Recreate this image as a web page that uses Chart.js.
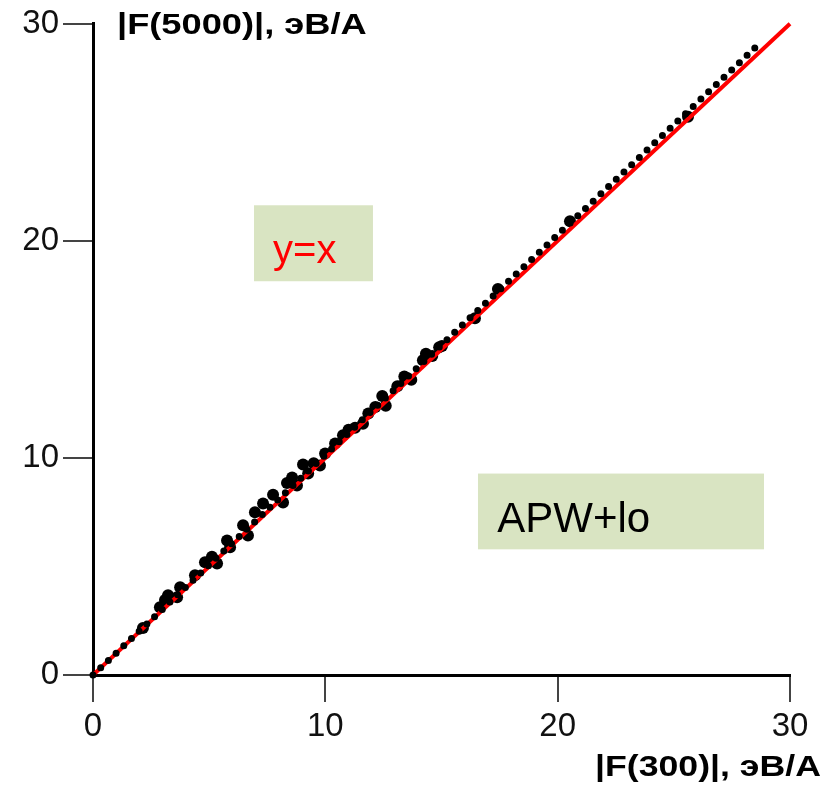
<!DOCTYPE html>
<html>
<head>
<meta charset="utf-8">
<script src="https://cdn.jsdelivr.net/npm/chart.js@4.4.1/dist/chart.umd.min.js"></script>
<style>
html,body{margin:0;padding:0;background:#fff;}
#wrap{width:839px;height:789px;}
</style>
</head>
<body>
<div id="wrap"><canvas id="c" width="839" height="789"></canvas></div>
<script>
// Data
const forceX = [2.15,2.88,3.10,3.23,3.62,3.75,4.39,4.82,5.12,5.34,5.77,5.90,6.46,6.67,6.97,7.32,7.75,8.18,8.35,8.57,8.78,9.04,9.26,9.5,9.77,9.99,10.42,10.76,11.0,11.28,11.62,11.85,12.15,12.45,12.6,13.1,13.4,13.7,14.2,14.33,14.6,14.9,15.02,16.44,17.43,20.53,25.61];
const forceY = [2.16,3.12,3.45,3.67,3.58,4.04,4.59,5.19,5.45,5.14,6.2,5.88,6.9,6.43,7.5,7.9,8.3,7.95,8.85,9.1,8.73,9.7,9.28,9.75,9.65,10.2,10.66,11.05,11.3,11.39,11.58,12.05,12.35,12.85,12.4,13.3,13.75,13.6,14.5,14.8,14.7,15.1,15.16,16.44,17.78,20.9,25.72];
const fitLineX = [0, 28.6];
const fitLineY = [0, 29.0];
const identityX = [0, 30];
const identityY = [0, 30];
const tickValues = [0, 10, 20, 30];
const xTitle = '|F(300)|, эВ/А';
const yTitle = '|F(5000)|, эВ/А';
const labelYX = 'y=x';
const labelMethod = 'APW+lo';

const toPts = (xs, ys) => xs.map((x, i) => ({x: x, y: ys[i]}));

const FONT = "'Liberation Sans', Arial, sans-serif";

function wideText(ctx, text, x, y, align, sx) {
  ctx.save();
  ctx.translate(x, y);
  ctx.scale(sx, 1);
  ctx.textAlign = align;
  ctx.fillText(text, 0, 0);
  ctx.restore();
}

const decor = {
  id: 'decor',
  beforeDatasetsDraw(chart) {
    const {ctx, scales:{x, y}} = chart;
    ctx.save();
    ctx.fillStyle = '#d9e4c2';
    let x0 = x.getPixelForValue(6.93), x1 = x.getPixelForValue(12.05);
    let y0 = y.getPixelForValue(21.64), y1 = y.getPixelForValue(18.14);
    ctx.fillRect(x0, y0, x1 - x0, y1 - y0);
    x0 = x.getPixelForValue(16.57); x1 = x.getPixelForValue(28.88);
    y0 = y.getPixelForValue(9.28); y1 = y.getPixelForValue(5.79);
    ctx.fillRect(x0, y0, x1 - x0, y1 - y0);
    ctx.restore();
  },
  afterDraw(chart) {
    const {ctx, scales:{x, y}} = chart;
    ctx.save();
    ctx.textBaseline = 'alphabetic';
    ctx.textAlign = 'left';
    ctx.fillStyle = '#ff0000';
    ctx.font = "40px " + FONT;
    ctx.fillText(labelYX, x.getPixelForValue(7.75), y.getPixelForValue(19.0));
    ctx.fillStyle = '#000';
    ctx.font = "42px " + FONT;
    ctx.fillText(labelMethod, x.getPixelForValue(17.4), y.getPixelForValue(6.6));
    ctx.font = "bold 29px " + FONT;
    wideText(ctx, yTitle, 117, 34, 'left', 1.25);
    wideText(ctx, xTitle, 821, 776, 'right', 1.23);
    ctx.restore();
  }
};

new Chart(document.getElementById('c'), {
  type: 'scatter',
  data: {
    datasets: [
      {
        label: 'fit',
        type: 'line',
        data: toPts(fitLineX, fitLineY),
        borderColor: '#000',
        borderWidth: 7,
        borderDash: [0, 10.6],
        borderCapStyle: 'round',
        pointRadius: 0,
        fill: false,
        clip: false,
        order: 0
      },
      {
        label: 'y=x',
        type: 'line',
        data: toPts(identityX, identityY),
        borderColor: '#ff0000',
        borderWidth: 4,
        pointRadius: 0,
        fill: false,
        clip: false,
        order: 1
      },
      {
        label: 'points',
        data: toPts(forceX, forceY),
        backgroundColor: '#000',
        borderColor: '#000',
        borderWidth: 0,
        pointRadius: 6,
        clip: false,
        order: 2
      }
    ]
  },
  options: {
    responsive: false,
    animation: false,
    devicePixelRatio: 1,
    layout: {padding: {top: 22, right: 49, left: 0, bottom: 0}},
    plugins: {legend: {display: false}, tooltip: {enabled: false}},
    scales: {
      x: {
        type: 'linear', min: 0, max: 30,
        afterFit(s) { s.height = 114; },
        afterBuildTicks(s) { s.ticks = tickValues.map(v => ({value: v})); },
        grid: {display: true, drawOnChartArea: false, drawTicks: true, tickLength: 27, color: '#444', lineWidth: 2},
        border: {display: true, color: '#000', width: 3},
        ticks: {font: {family: FONT, size: 33}, color: '#111', padding: 5, maxRotation: 0}
      },
      y: {
        type: 'linear', min: 0, max: 30,
        afterFit(s) { s.width = 93; },
        afterBuildTicks(s) { s.ticks = tickValues.map(v => ({value: v})); },
        grid: {display: true, drawOnChartArea: false, drawTicks: true, tickLength: 30, color: '#444', lineWidth: 2},
        border: {display: true, color: '#000', width: 3},
        ticks: {font: {family: FONT, size: 33}, color: '#111', padding: 4}
      }
    }
  },
  plugins: [decor]
});
</script>
</body>
</html>
